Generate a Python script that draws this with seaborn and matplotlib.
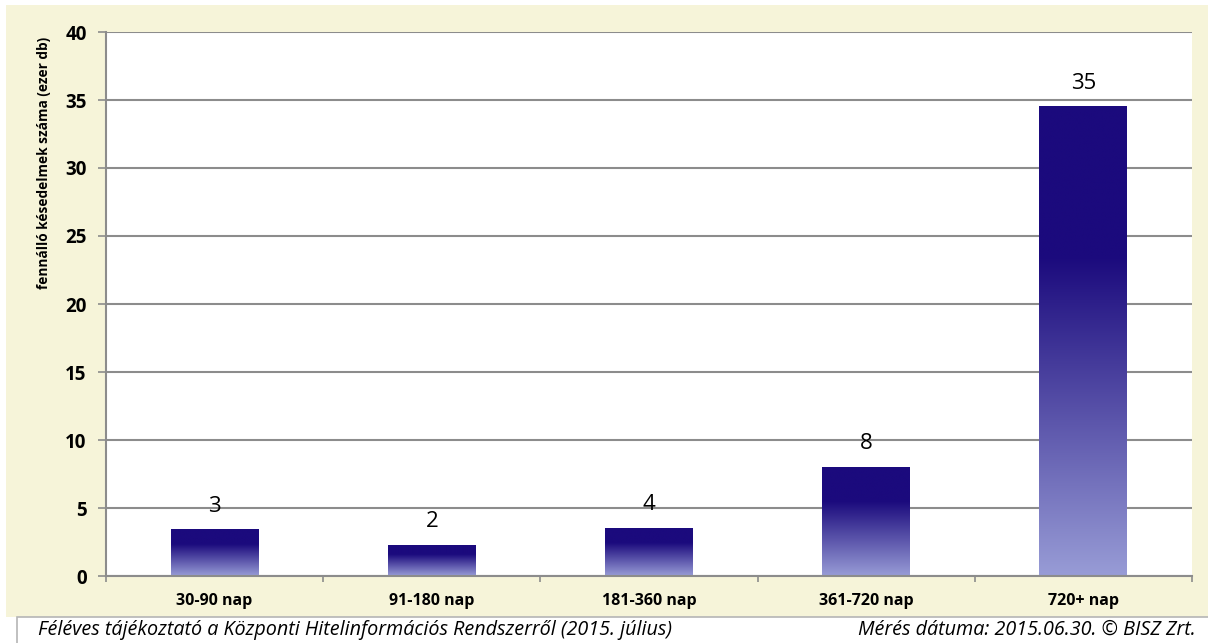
import numpy as np
import pandas as pd
import matplotlib
matplotlib.use("Agg")
import matplotlib.pyplot as plt
from matplotlib.patches import Rectangle
import seaborn as sns

# Data: outstanding delinquencies by age of default (thousand contracts)
categories = ["30-90 nap", "91-180 nap", "181-360 nap", "361-720 nap", "720+ nap"]
values = [3.45, 2.3, 3.55, 8.05, 34.55]
yticks = [0, 5, 10, 15, 20, 25, 30, 35, 40]

ylabel = "fennálló késedelmek száma (ezer db)"
footer_left = "Féléves tájékoztató a Központi Hitelinformációs Rendszerről (2015. július)"
footer_right = "Mérés dátuma: 2015.06.30. © BISZ Zrt."

W, H = 1208, 643
CREAM = "#F6F4D9"
GRID = "#8C8C8C"
TOP_RGB = np.array([27, 10, 125]) / 255.0
BOT_RGB = np.array([152, 156, 214]) / 255.0

sns.set_theme(style="white")
plt.rcParams["font.family"] = ["Open Sans", "DejaVu Sans"]

fig = plt.figure(figsize=(W / 100, H / 100), dpi=100, facecolor="white")

# cream chart panel and white footer strip, drawn behind the axes
fig.patches.append(Rectangle((6 / W, 26 / H), 1 - 6 / W, (H - 5 - 26) / H,
                             transform=fig.transFigure, facecolor=CREAM,
                             edgecolor="none", zorder=-10))
fig.patches.append(Rectangle((17 / W, -0.01), 1, (H - 617) / H + 0.01,
                             transform=fig.transFigure, facecolor="white",
                             edgecolor="#B5B5B5", lw=1.2, zorder=-10))

ax = fig.add_axes([106 / W, (H - 576) / H, (1192 - 106) / W, (576 - 32) / H])
ax.set_zorder(1)
ax.set_facecolor("white")

df = pd.DataFrame({"kategoria": categories, "ertek": values})
sns.barplot(data=df, x="kategoria", y="ertek", ax=ax, width=0.405,
            color="#1B0A7D", saturation=1, zorder=3)

# vertical gradient fill for each bar: solid navy top, fading to lavender
n = 256
t = np.linspace(0, 1, n)
s = np.clip((t - 0.32) / 0.68, 0, 1)
grad = (TOP_RGB[None, :] * (1 - s[:, None]) + BOT_RGB[None, :] * s[:, None])
grad = grad[:, None, :]
for p in ax.patches:
    x0, y0, w, h = p.get_x(), p.get_y(), p.get_width(), p.get_height()
    im = ax.imshow(grad, extent=[x0, x0 + w, y0, y0 + h], origin="upper",
                   aspect="auto", zorder=3, interpolation="bilinear")
    im.set_clip_path(p)
    p.set_facecolor("none")
    p.set_edgecolor("none")

# value labels above bars
for i, v in enumerate(values):
    ax.annotate(f"{v:.0f}", xy=(i, v), xytext=(0, 9), textcoords="offset points",
                ha="center", va="bottom", fontsize=16, color="black")

ax.set_xlim(-0.5, len(categories) - 0.5)
ax.set_ylim(0, 40)
ax.set_yticks(yticks)
ax.set_yticklabels([str(v) for v in yticks], fontsize=13.5, fontweight="bold")
ax.set_xticks(range(len(categories)))
ax.set_xticklabels(categories, fontsize=11.5, fontweight="bold")
ax.set_xticks(np.arange(-0.5, len(categories)), minor=True)

ax.tick_params(axis="x", which="major", length=0, pad=12, colors="black")
ax.tick_params(axis="x", which="minor", length=4, width=1.2, color=GRID, bottom=True)
ax.tick_params(axis="y", length=6, width=1.2, color=GRID, pad=8, left=True, labelcolor="black")

ax.yaxis.grid(True, color=GRID, lw=1.5, zorder=1)
ax.xaxis.grid(False)
ax.set_axisbelow(True)
for side in ["top", "right"]:
    ax.spines[side].set_visible(False)
for side in ["left", "bottom"]:
    ax.spines[side].set_color(GRID)
    ax.spines[side].set_linewidth(1.5)
    ax.spines[side].set_zorder(4)

ax.set_xlabel("")
ax.set_ylabel(ylabel, fontsize=9.8, fontweight="bold", color="black")
ax.yaxis.set_label_coords((51 - 106) / (1192 - 106), (576 - 163) / (576 - 32))

fig.text(38 / W, 13 / H, footer_left, ha="left", va="center",
         fontsize=14.2, style="italic", color="black")
fig.text(1196 / W, 13 / H, footer_right, ha="right", va="center",
         fontsize=14.2, style="italic", color="black")

fig.savefig("out.png", dpi=100, facecolor="white")
